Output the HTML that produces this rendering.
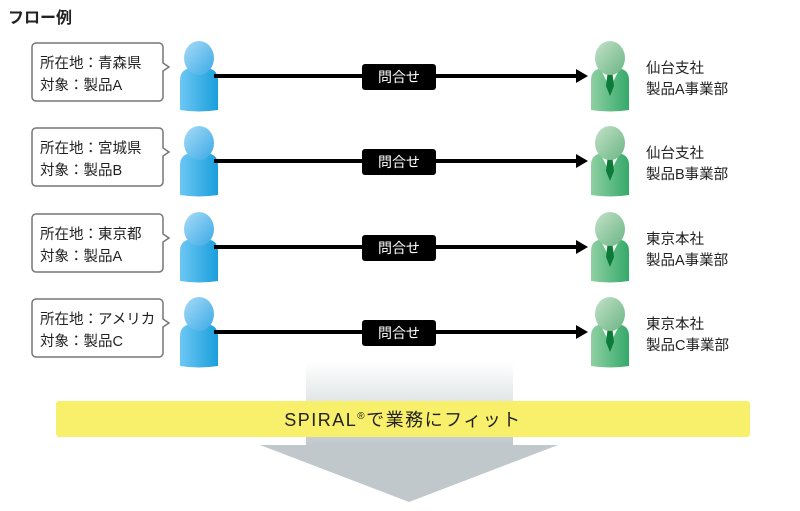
<!DOCTYPE html>
<html><head><meta charset="utf-8"><style>
body{margin:0;background:#fff;}
svg{display:block;font-family:"Liberation Sans","Noto Sans CJK JP",sans-serif;}
</style></head><body>
<svg width="800" height="511" viewBox="0 0 800 511">
<defs>
<linearGradient id="bh" x1="0" y1="0" x2="1" y2="1"><stop offset="0" stop-color="#a8dcf7"/><stop offset="1" stop-color="#3aa9e6"/></linearGradient>
<linearGradient id="bb" x1="0" y1="0" x2="1" y2="0"><stop offset="0" stop-color="#6cc7f4"/><stop offset="1" stop-color="#1a9fdc"/></linearGradient>
<linearGradient id="gh" x1="0" y1="0" x2="1" y2="1"><stop offset="0" stop-color="#c4e2c8"/><stop offset="1" stop-color="#6ab584"/></linearGradient>
<linearGradient id="gb" x1="0" y1="0" x2="1" y2="0"><stop offset="0" stop-color="#8fd0a2"/><stop offset="1" stop-color="#35a96a"/></linearGradient>
<linearGradient id="col" x1="0" y1="0" x2="0" y2="1"><stop offset="0" stop-color="#ffffff"/><stop offset="1" stop-color="#c0c8cb"/></linearGradient>
<g id="row">
<path d="M36 -33 H159 a4 4 0 0 1 4 4 V-13 l6 4 l-6 4 V21 a4 4 0 0 1 -4 4 H36 a4 4 0 0 1 -4 -4 V-29 a4 4 0 0 1 4 -4z" fill="#fff" stroke="#777" stroke-width="1.5"/>
<path d="M180 34 V4 Q180 -8 194 -8 H204 Q218 -8 218 4 V34 Q199 37 180 34z" fill="url(#bb)"/>
<path d="M190 -8 L195 -2 L199 -6 L203 -2 L208 -8z" fill="#fff"/>
<ellipse cx="199" cy="-18" rx="15" ry="17" fill="url(#bh)"/>
<rect x="214" y="-2" width="364" height="4" fill="#000"/>
<path d="M576 -7 L588 0 L576 7z" fill="#000"/>
<rect x="362" y="-12" width="74" height="26" rx="3" fill="#000"/>
<text x="399" y="6" text-anchor="middle" font-size="14" fill="#fff">問合せ</text>
<path d="M591 34 V4 Q591 -8 605 -8 H615 Q629 -8 629 4 V34 Q610 37 591 34z" fill="url(#gb)"/>
<path d="M600 -8 L608 8 L612 8 L620 -8z" fill="#f2f7f2"/>
<path d="M608 -6 L612 -6 L614 10 L610 20 L606 10z" fill="#0d7a3a"/>
<ellipse cx="610" cy="-18" rx="15" ry="17" fill="url(#gh)"/>
</g>
</defs>
<text x="8" y="23" font-size="16" font-weight="bold" fill="#222">フロー例</text>
<rect x="306" y="362" width="207" height="84" fill="url(#col)"/>
<path d="M260 445 H558 L409 502z" fill="#c0c8cb"/>
<rect x="56" y="401" width="694" height="36" rx="3" fill="#f8ef6a"/>
<text x="403" y="426" text-anchor="middle" font-size="18" letter-spacing="1.5" fill="#222">SPIRAL<tspan font-size="10" dy="-7">®</tspan><tspan dy="7">で業務にフィット</tspan></text>
<g font-size="14.5" fill="#222">
<use href="#row" transform="translate(0,76)"/>
<text x="40" y="68">所在地：青森県</text><text x="40" y="90">対象：製品A</text>
<text x="646" y="73">仙台支社</text><text x="646" y="94">製品A事業部</text>
<use href="#row" transform="translate(0,161)"/>
<text x="40" y="153">所在地：宮城県</text><text x="40" y="175">対象：製品B</text>
<text x="646" y="158">仙台支社</text><text x="646" y="179">製品B事業部</text>
<use href="#row" transform="translate(0,247)"/>
<text x="40" y="239">所在地：東京都</text><text x="40" y="261">対象：製品A</text>
<text x="646" y="244">東京本社</text><text x="646" y="265">製品A事業部</text>
<use href="#row" transform="translate(0,332)"/>
<text x="40" y="324">所在地：アメリカ</text><text x="40" y="346">対象：製品C</text>
<text x="646" y="329">東京本社</text><text x="646" y="350">製品C事業部</text>
</g>
</svg>
</body></html>
